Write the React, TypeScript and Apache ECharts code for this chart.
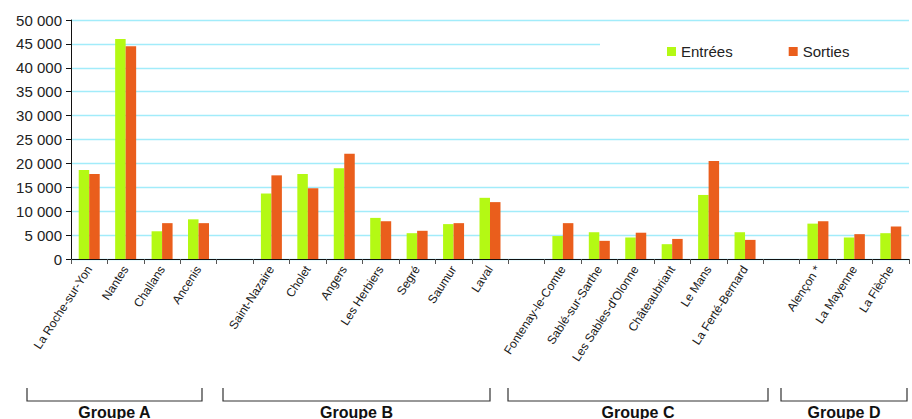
import React, { useEffect, useRef } from "react";
import * as echarts from "echarts";

const categories = [
  "La Roche-sur-Yon", "Nantes", "Challans", "Ancenis", "",
  "Saint-Nazaire", "Cholet", "Angers", "Les Herbiers", "Segré", "Saumur", "Laval", "",
  "Fontenay-le-Comte", "Sablé-sur-Sarthe", "Les Sables-d'Olonne", "Châteaubriant", "Le Mans", "La Ferté-Bernard", "",
  "Alençon *", "La Mayenne", "La Flèche",
];

const entrees = [
  18600, 46000, 5800, 8300, null,
  13700, 17800, 19000, 8600, 5400, 7300, 12800, null,
  4800, 5600, 4500, 3100, 13400, 5600, null,
  7400, 4500, 5400,
];

const sorties = [
  17800, 44500, 7500, 7500, null,
  17500, 14800, 22000, 7900, 5900, 7500, 11900, null,
  7500, 3800, 5500, 4200, 20500, 4000, null,
  7900, 5200, 6800,
];

const seriesNames = ["Entrées", "Sorties"];
const groupLabels = ["Groupe A", "Groupe B", "Groupe C", "Groupe D"];
const groupSpans: [number, number][] = [[27, 202], [223, 490], [508, 768], [781, 907]];

const GREEN = "#b4f914";
const ORANGE = "#ea5e1c";

export default function App() {
  const ref = useRef<HTMLDivElement>(null);
  useEffect(() => {
    if (!ref.current) return;
    const chart = echarts.init(ref.current, null, { renderer: "svg" });
    const graphics: any[] = [];
    groupSpans.forEach(([a, b], i) => {
      graphics.push({
        type: "polyline",
        shape: { points: [[a, 388], [a, 401], [b, 401], [b, 388]] },
        style: { stroke: "#333", lineWidth: 1.2, fill: null },
        silent: true,
      });
      graphics.push({
        type: "text",
        x: (a + b) / 2,
        y: 404,
        style: {
          text: groupLabels[i],
          fontSize: 16,
          fontWeight: "bold",
          fontFamily: "Liberation Sans, Arial, sans-serif",
          fill: "#111",
          align: "center",
          verticalAlign: "top",
        },
        silent: true,
      });
    });
    chart.setOption({
      animation: false,
      textStyle: { fontFamily: "Liberation Sans, Arial, sans-serif" },
      grid: { left: 71, right: 3, top: 20, bottom: 160, containLabel: false },
      legend: {
        data: seriesNames,
        left: 600,
        top: 22,
        padding: [22, 60, 6, 67],
        backgroundColor: "#ffffff",
        itemWidth: 9,
        itemHeight: 9,
        itemGap: 56,
        icon: "rect",
        textStyle: { fontSize: 15, color: "#222" },
      },
      xAxis: {
        type: "category",
        data: categories,
        axisLine: { lineStyle: { color: "#111", width: 1 } },
        axisTick: { show: true, length: 5, lineStyle: { color: "#555" } },
        axisLabel: {
          interval: 0,
          rotate: 57,
          margin: 8,
          fontSize: 12,
          color: "#1a1a1a",
        },
      },
      yAxis: {
        type: "value",
        min: 0,
        max: 50000,
        interval: 5000,
        axisLine: { show: true, lineStyle: { color: "#111", width: 1 } },
        axisTick: { show: true, length: 5, lineStyle: { color: "#111" } },
        axisLabel: {
          fontSize: 15,
          color: "#222",
          margin: 9,
          formatter: (v: number) => v.toLocaleString("fr-FR").replace(/\u202f|\u00a0/g, " "),
        },
        splitLine: { lineStyle: { color: "#a2ecfa", width: 1.3 } },
      },
      series: [
        {
          name: seriesNames[0],
          type: "bar",
          data: entrees,
          barWidth: 10.5,
          barGap: "0%",
          itemStyle: { color: GREEN },
        },
        {
          name: seriesNames[1],
          type: "bar",
          data: sorties,
          barWidth: 10.5,
          barGap: "0%",
          itemStyle: { color: ORANGE },
        },
      ],
      graphic: graphics,
    });
    return () => chart.dispose();
  }, []);
  return (
    <div
      ref={ref}
      style={{ position: "fixed", left: 0, top: 0, width: 912, height: 419, background: "#fff" }}
    />
  );
}
